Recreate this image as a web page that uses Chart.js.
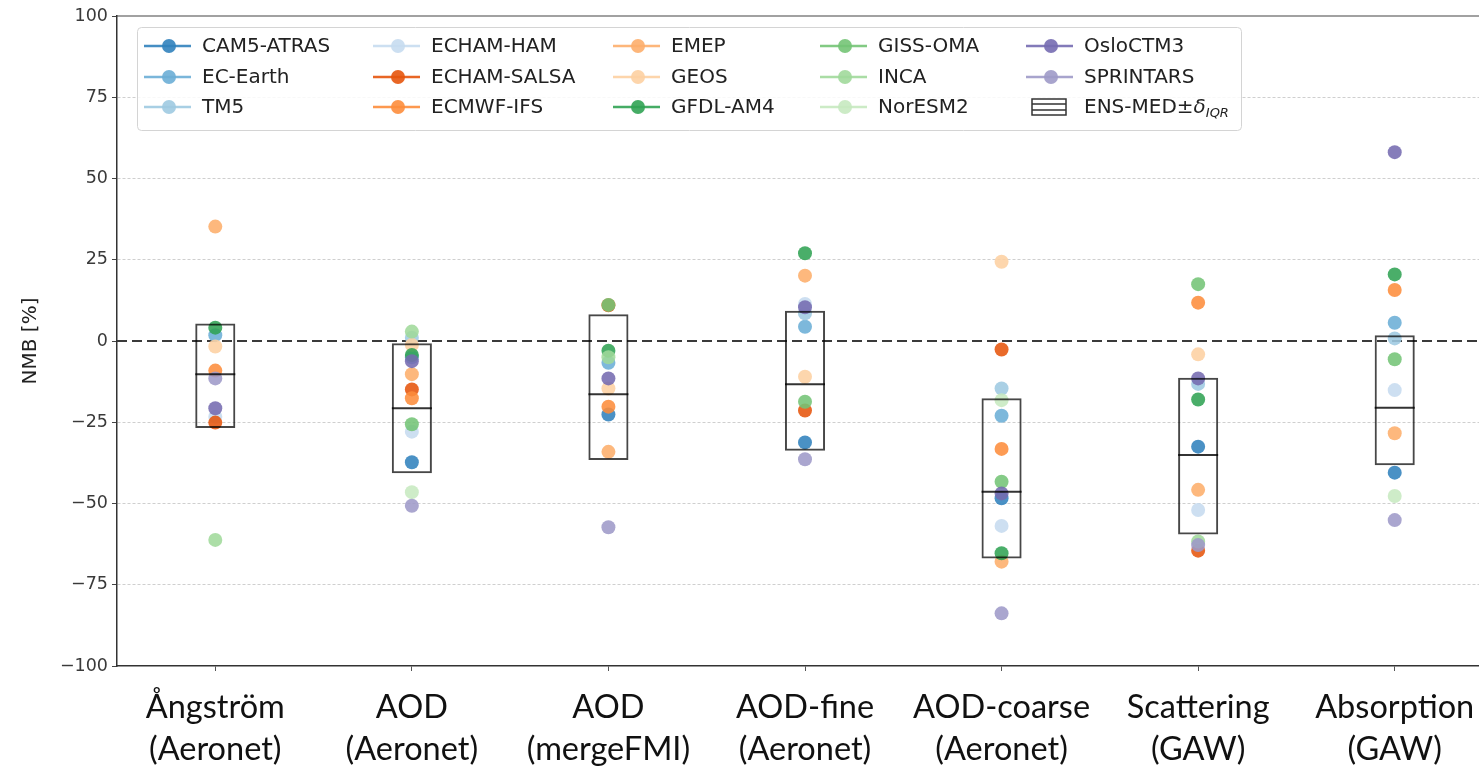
<!DOCTYPE html>
<html>
<head>
<meta charset="utf-8">
<script src="https://cdn.jsdelivr.net/npm/chart.js@4.4.0/dist/chart.umd.min.js"></script>
<style>
  html, body { margin: 0; padding: 0; background: #fff; overflow: hidden; }
  canvas { display: block; }
</style>
</head>
<body>
<canvas id="nmbChart" width="1493" height="769"></canvas>
<script>
const categories = [
  ['Ångström', '(Aeronet)'],
  ['AOD', '(Aeronet)'],
  ['AOD', '(mergeFMI)'],
  ['AOD-fine', '(Aeronet)'],
  ['AOD-coarse', '(Aeronet)'],
  ['Scattering', '(GAW)'],
  ['Absorption', '(GAW)']
];
const yTicks = [-100, -75, -50, -25, 0, 25, 50, 75, 100];

// model NMB values per category (null = not available)
const cam5Atras  = [null, -37.3, -22.6, -31.2, -48.4, -32.5, -40.5];
const ecEarth    = [1.8, -5.0, -6.7, 4.4, -23.0, null, 5.6];
const tm5        = [null, 1.0, null, 8.5, -14.6, -13.2, 0.8];
const echamHam   = [-23.3, -27.9, null, 11.4, -56.9, -52.0, -15.1];
const echamSalsa = [-25.1, -14.9, 11.0, -21.4, -2.6, -64.5, null];
const ecmwfIfs   = [-9.1, -17.6, -20.2, null, -33.2, 11.8, 15.7];
const emep       = [35.2, -10.2, -34.1, 20.1, -67.9, -45.8, -28.4];
const geos       = [-1.7, -1.2, -14.6, -11.0, 24.4, -4.1, null];
const gfdlAm4    = [4.1, -4.3, -3.0, 27.0, -65.3, -18.0, 20.5];
const gissOma    = [null, -25.6, 11.1, -18.7, -43.3, 17.5, -5.6];
const inca       = [-61.2, 2.9, -5.0, null, null, -61.7, null];
const norEsm2    = [null, -46.5, null, null, -18.2, null, -47.7];
const osloCtm3   = [-20.7, -6.2, -11.5, 10.4, -46.9, -11.5, 58.1];
const sprintars  = [-11.5, -50.7, -57.3, -36.4, -83.8, -62.8, -55.1];

// ensemble median and IQR box
const ensMedian = [-10.2, -20.7, -16.4, -13.3, -46.4, -35.1, -20.5];
const ensLow    = [-26.8, -40.7, -36.6, -33.8, -66.9, -59.5, -38.2];
const ensHigh   = [5.4, -0.7, 8.2, 9.3, -17.6, -11.3, 1.8];

const models = [
  ['CAM5-ATRAS', cam5Atras, '#3182bd'],
  ['EC-Earth', ecEarth, '#6baed6'],
  ['TM5', tm5, '#9ecae1'],
  ['ECHAM-HAM', echamHam, '#c6dbef'],
  ['ECHAM-SALSA', echamSalsa, '#e6550d'],
  ['ECMWF-IFS', ecmwfIfs, '#fd8d3c'],
  ['EMEP', emep, '#fdae6b'],
  ['GEOS', geos, '#fdd0a2'],
  ['GFDL-AM4', gfdlAm4, '#31a354'],
  ['GISS-OMA', gissOma, '#74c476'],
  ['INCA', inca, '#a1d99b'],
  ['NorESM2', norEsm2, '#c7e9c0'],
  ['OsloCTM3', osloCtm3, '#756bb1'],
  ['SPRINTARS', sprintars, '#9e9ac8']
];

function alpha(hex, a) {
  const n = parseInt(hex.slice(1), 16);
  return 'rgba(' + (n >> 16) + ',' + ((n >> 8) & 255) + ',' + (n & 255) + ',' + a + ')';
}

const datasets = [];
datasets.push({
  type: 'bar',
  label: 'ENS-MED',
  data: ensLow.map((v, i) => [v, ensHigh[i]]),
  backgroundColor: 'transparent',
  borderColor: 'rgba(0,0,0,0.72)',
  borderWidth: 2,
  borderSkipped: false,
  barPercentage: 0.204,
  categoryPercentage: 1,
  order: 0
});
datasets.push({
  type: 'line',
  label: 'median',
  data: ensMedian,
  showLine: false,
  pointStyle: 'line',
  pointRadius: 20,
  pointBorderWidth: 2,
  pointBorderColor: 'rgba(0,0,0,0.8)',
  order: 0
});
models.forEach((m, i) => {
  datasets.push({
    type: 'line',
    label: m[0],
    data: m[1],
    showLine: false,
    pointRadius: 7,
    pointBorderWidth: 0,
    pointBackgroundColor: alpha(m[2], 0.88),
    pointBorderColor: alpha(m[2], 0.88),
    order: 30 - i
  });
});

// dashed zero line + top spine
const refLines = {
  id: 'refLines',
  beforeDatasetsDraw(chart) {
    const { ctx, chartArea } = chart;
    const y0 = chart.scales.y.getPixelForValue(0);
    ctx.save();
    ctx.strokeStyle = '#3a3a3a';
    ctx.lineWidth = 2.2;
    ctx.setLineDash([10, 5]);
    ctx.beginPath();
    ctx.moveTo(chartArea.left, y0);
    ctx.lineTo(chartArea.right, y0);
    ctx.stroke();
    ctx.restore();
  },
  afterDraw(chart) {
    const { ctx, chartArea } = chart;
    ctx.save();
    ctx.strokeStyle = '#444';
    ctx.lineWidth = 1.2;
    ctx.beginPath();
    ctx.moveTo(chartArea.left, chartArea.top);
    ctx.lineTo(chartArea.right, chartArea.top);
    ctx.stroke();
    ctx.restore();
  }
};

// matplotlib-like legend, column-major, 5 columns x 3 rows
const boxLegend = {
  id: 'boxLegend',
  afterDraw(chart) {
    const ctx = chart.ctx;
    const colX = [202, 431, 671, 878, 1084];
    const rowY = [46, 77, 107];
    ctx.save();
    ctx.fillStyle = 'rgba(255,255,255,0.85)';
    ctx.strokeStyle = '#d4d4d4';
    ctx.lineWidth = 1;
    ctx.beginPath();
    ctx.roundRect(137.5, 27.5, 1104, 103, 4);
    ctx.fill();
    ctx.stroke();
    ctx.font = '20px "DejaVu Sans"';
    ctx.textBaseline = 'middle';
    models.forEach((m, i) => {
      const x = colX[Math.floor(i / 3)];
      const y = rowY[i % 3];
      const c = alpha(m[2], 0.9);
      ctx.strokeStyle = c;
      ctx.lineWidth = 2.5;
      ctx.beginPath();
      ctx.moveTo(x - 58, y);
      ctx.lineTo(x - 11, y);
      ctx.stroke();
      ctx.fillStyle = c;
      ctx.beginPath();
      ctx.arc(x - 33, y, 7, 0, Math.PI * 2);
      ctx.fill();
      ctx.fillStyle = '#222';
      ctx.fillText(m[0], x, y + 1);
    });
    // ensemble entry
    const x = colX[4], y = rowY[2];
    ctx.strokeStyle = '#333';
    ctx.lineWidth = 1.5;
    ctx.strokeRect(x - 52, y - 8, 34, 16);
    ctx.beginPath();
    ctx.moveTo(x - 52, y - 3); ctx.lineTo(x - 18, y - 3);
    ctx.moveTo(x - 52, y + 3); ctx.lineTo(x - 18, y + 3);
    ctx.stroke();
    ctx.fillStyle = '#222';
    const main = 'ENS-MED±';
    ctx.fillText(main, x, y + 1);
    let w = ctx.measureText(main).width;
    ctx.font = 'italic 20px "DejaVu Sans"';
    ctx.fillText('δ', x + w, y + 1);
    w += ctx.measureText('δ').width;
    ctx.font = 'italic 13px "DejaVu Sans"';
    ctx.fillText('IQR', x + w, y + 7);
    ctx.restore();
  }
};

new Chart(document.getElementById('nmbChart'), {
  type: 'bar',
  data: { labels: categories, datasets: datasets },
  options: {
    responsive: false,
    animation: false,
    layout: { autoPadding: false, padding: { top: 16, left: 0, right: 0, bottom: 0 } },
    plugins: { legend: { display: false }, tooltip: { enabled: false } },
    scales: {
      x: {
        offset: true,
        grid: { offset: false, drawOnChartArea: false, drawTicks: true, tickLength: 5, tickColor: '#555' },
        border: { display: true, color: '#333', width: 1.5 },
        ticks: {
          color: '#111',
          padding: 16,
          maxRotation: 0,
          autoSkip: false,
          font: { family: 'Lato', size: 32.5, lineHeight: '42px' }
        },
        afterFit(scale) {
          scale.height = 103;
          scale.paddingLeft = 0;
          scale.paddingRight = 0;
        }
      },
      y: {
        min: -100,
        max: 100,
        afterBuildTicks(scale) { scale.ticks = yTicks.map(v => ({ value: v })); },
        grid: {
          color: ctx => (ctx.tick && Math.abs(ctx.tick.value) !== 100 && ctx.tick.value !== 0) ? '#cfcfcf' : 'transparent',
          tickColor: '#444',
          tickLength: 5,
          lineWidth: 1
        },
        border: { display: true, color: '#333', width: 1.5, dash: [3, 2] },
        ticks: {
          color: '#3a3a3a',
          padding: 4,
          font: { family: 'DejaVu Sans', size: 17.5 },
          callback: v => String(v).replace('-', '\u2212')
        },
        title: {
          display: true,
          text: 'NMB [%]',
          color: '#222',
          padding: { top: 19, bottom: 0 },
          font: { family: 'DejaVu Sans', size: 20 }
        },
        afterFit(scale) { scale.width = 117; }
      }
    }
  },
  plugins: [refLines, boxLegend]
});
</script>
</body>
</html>
